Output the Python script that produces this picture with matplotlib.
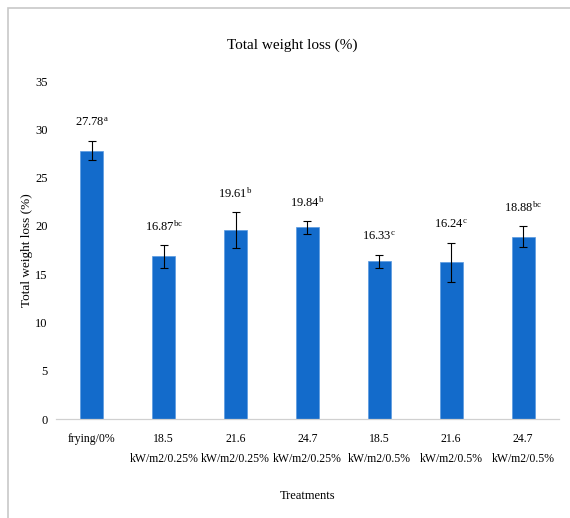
import matplotlib
matplotlib.use("Agg")
import matplotlib.pyplot as plt
from matplotlib.patches import Rectangle

plt.rcParams['font.family'] = ['Liberation Serif', 'DejaVu Serif']
plt.rcParams['mathtext.fontset'] = 'custom'
plt.rcParams['mathtext.rm'] = 'Liberation Serif'
plt.rcParams['mathtext.it'] = 'Liberation Serif'

# Data
treatments = ["frying/0%", "18.5\nkW/m2/0.25%", "21.6\nkW/m2/0.25%", "24.7\nkW/m2/0.25%",
              "18.5\nkW/m2/0.5%", "21.6\nkW/m2/0.5%", "24.7\nkW/m2/0.5%"]
weight_loss = [27.78, 16.87, 19.61, 19.84, 16.33, 16.24, 18.88]
errors = [1.0, 1.2, 1.85, 0.7, 0.7, 2.0, 1.1]
letters = ["a", "bc", "b", "b", "c", "c", "bc"]
yticks = [0, 5, 10, 15, 20, 25, 30, 35]

bar_color = '#136bcb'

fig = plt.figure(figsize=(5.70, 5.18), dpi=100)
ax = fig.add_axes([0.0982, 0.191, 0.8825, 0.6525])

x = range(len(treatments))
ax.bar(x, weight_loss, width=0.32, color=bar_color, edgecolor='#5a9ae0', linewidth=0.5, zorder=2)
ax.errorbar(x, weight_loss, yerr=errors, fmt='none', ecolor='black', elinewidth=0.8,
            capsize=3, capthick=0.8, zorder=3)

# value labels with significance letters
for i, (v, e, l) in enumerate(zip(weight_loss, errors, letters)):
    ax.annotate(f"{v:.2f}" + r"$^{\mathrm{" + l + "}}$", (i, v + e), xytext=(0, 13),
                textcoords='offset points', ha='center', va='center', fontsize=9)

ax.set_xlim(-0.5, len(treatments) - 0.5)
ax.set_ylim(0, 35)
ax.set_yticks(yticks)
ax.set_xticks(list(x))
ax.set_xticklabels(treatments, fontsize=8.5, linespacing=1.9)
ax.tick_params(axis='y', length=0, labelsize=9, pad=6)
ax.tick_params(axis='x', length=0, pad=10)

for s in ['top', 'right', 'left']:
    ax.spines[s].set_visible(False)
ax.spines['bottom'].set_color('#d0d0d0')
ax.spines['bottom'].set_linewidth(0.9)

ax.set_xlabel("Treatments", fontsize=9)
ax.xaxis.set_label_coords(0.5, -(490 - 419) / (0.6525 * 518))
ax.set_ylabel("Total weight loss (%)", fontsize=9.5)
ax.yaxis.set_label_coords(-(56 - 33) / (0.8825 * 570), 0.5)

fig.text(0.512, 1 - 45 / 518, "Total weight loss (%)", ha='center', va='center', fontsize=11)

# frame around the chart
fig.add_artist(Rectangle((8 / 570, -0.1), 1.1, 1 - 8 / 518 + 0.1, transform=fig.transFigure,
                         fill=False, edgecolor='#c8c8c8', linewidth=1.2))

fig.savefig("out.png", dpi=100)
